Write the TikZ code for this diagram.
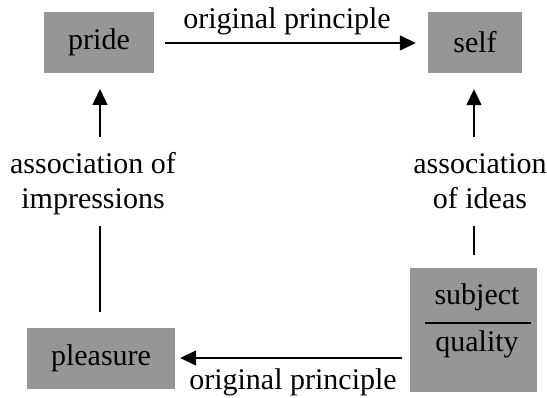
\documentclass[tikz,border=0pt]{standalone}
\usepackage{fontspec}
\setmainfont{Liberation Serif}
\usetikzlibrary{arrows.meta}
\definecolor{boxgray}{RGB}{150,150,150}
\begin{document}
\begin{tikzpicture}[x=1pt,y=-1pt,
  txt/.style={font=\fontsize{30}{35}\selectfont, inner sep=0pt},
  box/.style={txt, fill=boxgray, minimum height=61pt},
  lbl/.style={txt, align=center},
  arr/.style={line width=1.5pt, -{Triangle[length=16pt,width=15pt]}},
  conn/.style={line width=1.5pt}]
\useasboundingbox (0,0) rectangle (547,398);
% boxes
\node[box, minimum width=110pt] (pride) at (99,42.5) {pride};
\node[box, minimum width=94pt] (self) at (475,42.5) {self};
\node[box, minimum width=148pt] (pleasure) at (101,358.5) {pleasure};
\node[fill=boxgray, minimum width=127pt, minimum height=124pt, inner sep=0pt] (subj) at (473.5,330) {};
\node[txt, anchor=base] (subjtxt) at (477,305) {subject};
\node[txt, anchor=base] (qualtxt) at (477,352) {quality};
\coordinate (fl) at (425,323);
\coordinate (fr) at (531,323);
\draw[line width=2pt] (fl) -- (fr);
% top arrow
\draw[arr] ([xshift=11pt]pride.east |- 0,43) -- ([xshift=-12pt]self.west |- 0,43);
\node[txt, anchor=base] (top) at (287,29) {original principle};
% bottom arrow
\draw[arr] ([xshift=-8pt]subj.west |- 0,358) -- ([xshift=5pt]pleasure.east |- 0,358);
\node[txt, anchor=base] (bot) at (293,390) {original principle};
% left side
\node[lbl, anchor=base] (assocL) at (93,209) {association of\\impressions};
\coordinate (l1) at (100,137);
\coordinate (l2) at (100,226);
\draw[arr] (l1) -- (l1 |- 0,89);
\draw[conn] (l2) -- (l2 |- 0,312);
% right side
\node[lbl, anchor=base] (assocR) at (480,209) {association\\of ideas};
\coordinate (r1) at (474,137);
\coordinate (r2) at (474,226);
\draw[arr] (r1) -- (r1 |- self.south) [shorten >=16pt];
\draw[conn] (r2) -- (r2 |- 0,255);
\end{tikzpicture}
\end{document}
